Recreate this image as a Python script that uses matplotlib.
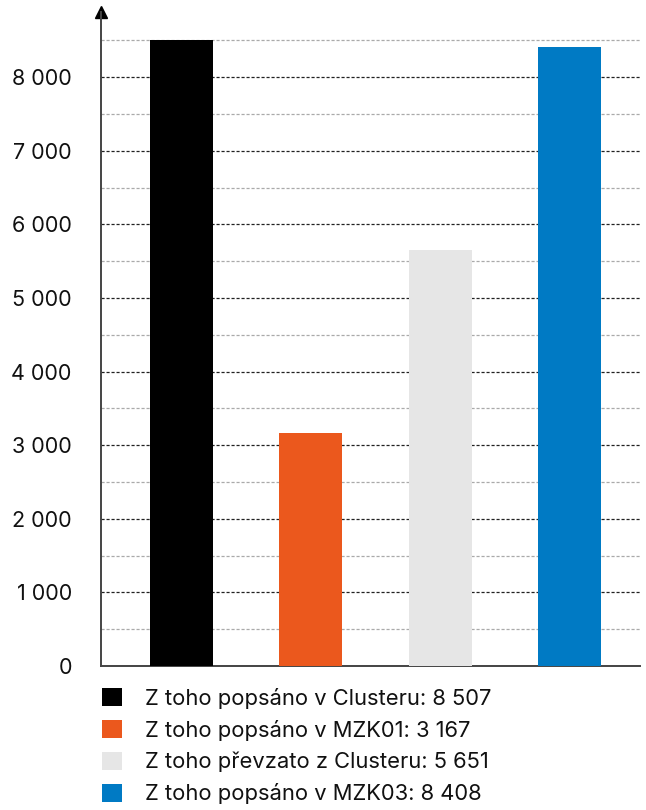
import matplotlib.pyplot as plt
from matplotlib.patches import Patch
from matplotlib.ticker import MultipleLocator, FuncFormatter

plt.rcParams['font.family'] = ['Inter', 'DejaVu Sans']

# data
labels = ["Z toho popsáno v Clusteru", "Z toho popsáno v MZK01",
          "Z toho převzato z Clusteru", "Z toho popsáno v MZK03"]
values = [8507, 3167, 5651, 8408]
colors = ["#000000", "#eb581d", "#e6e6e6", "#007ac4"]


def fmt(v):
    return f"{v:,.0f}".replace(",", " ")


fig = plt.figure(figsize=(6.46, 8.10), dpi=100)
ax = fig.add_axes([101 / 646, 1 - 666 / 810, (640 - 101) / 646, (666 - 12) / 810])

xs = list(range(len(values)))
ax.bar(xs, values, width=0.487, color=colors, zorder=3)

ax.set_xlim(-0.62, 3.545)
ax.set_ylim(0, 8886)

ax.yaxis.set_major_locator(MultipleLocator(1000))
ax.yaxis.set_minor_locator(MultipleLocator(500))
ax.yaxis.set_major_formatter(FuncFormatter(lambda v, p: fmt(v)))
ax.grid(axis="y", which="major", color="#222222", linestyle=(0, (2.5, 1.5)), linewidth=0.9, zorder=1)
ax.grid(axis="y", which="minor", color="#aaaaaa", linestyle=(0, (2.5, 1.5)), linewidth=0.9, zorder=1)
ax.set_xticks([])
ax.tick_params(axis="y", which="both", length=0, pad=21, labelsize=15.5, labelcolor="#111111")

for s in ["top", "right"]:
    ax.spines[s].set_visible(False)
ax.spines["left"].set_color("#444444")
ax.spines["bottom"].set_color("#444444")
ax.spines["left"].set_linewidth(1.4)
ax.spines["bottom"].set_linewidth(1.4)
ax.plot(0, 1, marker="^", color="black", markersize=9,
        transform=ax.transAxes, clip_on=False)

handles = [Patch(facecolor=c, edgecolor="none") for c in colors]
leg_labels = [f"{l}: {fmt(v)}" for l, v in zip(labels, values)]
fig.legend(handles, leg_labels, loc="upper left", bbox_to_anchor=(82 / 646, 1 - 668 / 810),
           frameon=False, fontsize=15.8, handlelength=0.9, handleheight=0.9,
           handletextpad=1.05, labelspacing=0.5, labelcolor="#111111")

fig.savefig("out.png", dpi=100)
